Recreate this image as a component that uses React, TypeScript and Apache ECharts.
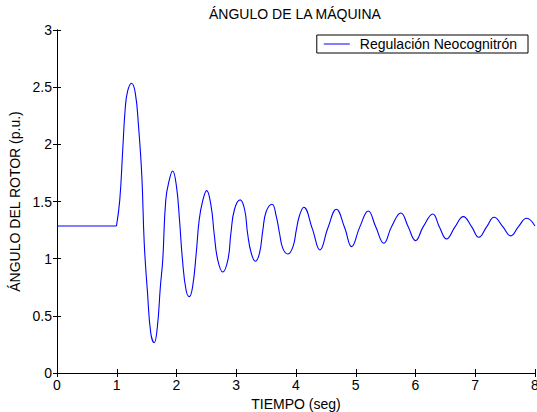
import React, { useEffect, useRef } from "react";
import * as echarts from "echarts";

const TITLE = "ÁNGULO DE LA MÁQUINA";
const X_NAME = "TIEMPO (seg)";
const Y_NAME = "ÁNGULO DEL ROTOR (p.u.)";
const SERIES_NAME = "Regulación Neocognitrón";

// pre-fault steady state
const PRE_TIME = [0, 0.995];
const PRE_ANGLE = [1.286, 1.286];

// post-fault oscillation
const TIME = [
  0.995, 1.05, 1.1, 1.14, 1.18, 1.247, 1.31, 1.365, 1.42, 1.46,
  1.515, 1.57, 1.627, 1.68, 1.73, 1.77, 1.82, 1.88, 1.935, 2.0,
  2.05, 2.1, 2.16, 2.215, 2.27, 2.33, 2.38, 2.44, 2.505, 2.58,
  2.63, 2.69, 2.774, 2.86, 2.91, 2.97, 3.065, 3.14, 3.19, 3.25,
  3.32, 3.39, 3.445, 3.5, 3.6, 3.67, 3.725, 3.78, 3.865, 3.95,
  4.005, 4.06, 4.13, 4.273, 4.4, 4.535, 4.675, 4.815, 4.93, 5.067,
  5.21, 5.336, 5.47, 5.599, 5.755, 5.878, 6.0, 6.13, 6.29, 6.398,
  6.52, 6.661, 6.8, 6.941, 7.06, 7.193, 7.315, 7.461, 7.595, 7.723,
  7.86, 8.0,
];
const ANGLE = [
  1.286, 1.51, 1.95, 2.3, 2.46, 2.534, 2.45, 2.155, 1.72, 1.135,
  0.7, 0.347, 0.265, 0.405, 0.755, 0.99, 1.51, 1.69, 1.767, 1.63,
  1.34, 0.99, 0.726, 0.668, 0.755, 1.047, 1.34, 1.51, 1.595, 1.455,
  1.22, 0.99, 0.884, 0.99, 1.22, 1.43, 1.514, 1.43, 1.22, 1.05,
  0.977, 1.05, 1.25, 1.41, 1.476, 1.37, 1.22, 1.09, 1.041, 1.105,
  1.25, 1.38, 1.45, 1.263, 1.076, 1.27, 1.432, 1.27, 1.105, 1.276,
  1.417, 1.276, 1.135, 1.279, 1.4, 1.279, 1.158, 1.28, 1.391, 1.28,
  1.172, 1.278, 1.368, 1.278, 1.187, 1.28, 1.362, 1.28, 1.199, 1.28,
  1.353, 1.286,
];

const X_MIN = 0;
const X_MAX = 8;
const X_STEP = 1;
const Y_MIN = 0;
const Y_MAX = 3;
const Y_STEP = 0.5;

const FONT = "'Liberation Sans', Arial, sans-serif";
const FS = 14;

export default function App() {
  const ref = useRef<HTMLDivElement>(null);

  useEffect(() => {
    if (!ref.current) return;
    const chart = echarts.init(ref.current, undefined, { renderer: "svg" });
    const pre = PRE_TIME.map((t, i) => [t, PRE_ANGLE[i]]);
    const post = TIME.map((t, i) => [t, ANGLE[i]]);

    const axisLine = { show: true, lineStyle: { color: "#000", width: 1 } };
    const axisTick = { show: true, inside: true, length: 4, lineStyle: { color: "#000", width: 1 } };
    const label = { color: "#000", fontFamily: FONT, fontSize: FS };

    chart.setOption({
      animation: false,
      backgroundColor: "#fff",
      textStyle: { fontFamily: FONT },
      grid: {
        left: 57,
        right: 2,
        top: 30,
        bottom: 39,
        containLabel: false,
        outerBoundsMode: "none",
      },
      graphic: [
        {
          type: "text",
          x: 295,
          y: 14,
          style: {
            text: TITLE,
            fontFamily: FONT,
            fontSize: FS,
            fill: "#000",
            textAlign: "center",
            textVerticalAlign: "middle",
          },
        },
      ],
      legend: {
        data: [{ name: SERIES_NAME, icon: "rect" }],
        right: 9,
        top: 35,
        padding: [2, 11, 2, 7],
        borderColor: "#000",
        borderWidth: 1,
        borderRadius: 0,
        backgroundColor: "#fff",
        itemWidth: 26,
        itemHeight: 1,
        textStyle: {
          color: "#000",
          fontFamily: FONT,
          fontSize: FS,
          padding: [0, 0, 0, 5],
        },
      },
      xAxis: [
        {
          type: "value",
          min: X_MIN,
          max: X_MAX,
          interval: X_STEP,
          position: "bottom",
          name: X_NAME,
          nameLocation: "middle",
          nameGap: 20,
          nameTextStyle: { color: "#000", fontFamily: FONT, fontSize: FS },
          axisLine,
          axisTick,
          axisLabel: { ...label, margin: 5 },
          splitLine: { show: false },
        },
        {
          type: "value",
          min: X_MIN,
          max: X_MAX,
          interval: X_STEP,
          position: "top",
          axisLine,
          axisTick,
          axisLabel: { show: false },
          splitLine: { show: false },
        },
      ],
      yAxis: [
        {
          type: "value",
          min: Y_MIN,
          max: Y_MAX,
          interval: Y_STEP,
          position: "left",
          name: Y_NAME,
          nameLocation: "middle",
          nameGap: 35,
          nameTextStyle: { color: "#000", fontFamily: FONT, fontSize: FS },
          axisLine,
          axisTick,
          axisLabel: { ...label, margin: 5 },
          splitLine: { show: false },
        },
        {
          type: "value",
          min: Y_MIN,
          max: Y_MAX,
          interval: Y_STEP,
          position: "right",
          axisLine,
          axisTick,
          axisLabel: { show: false },
          splitLine: { show: false },
        },
      ],
      series: [
        {
          name: SERIES_NAME,
          type: "line",
          data: pre,
          showSymbol: false,
          symbol: "none",
          lineStyle: { color: "#0000ff", width: 1.1 },
          itemStyle: { color: "#0000ff" },
        },
        {
          name: SERIES_NAME,
          type: "line",
          data: post,
          smooth: 0.45,
          showSymbol: false,
          symbol: "none",
          lineStyle: { color: "#0000ff", width: 1.1 },
          itemStyle: { color: "#0000ff" },
        },
      ],
    });
    return () => chart.dispose();
  }, []);

  return (
    <div
      ref={ref}
      style={{ position: "fixed", left: 0, top: 0, width: 537, height: 412 }}
    />
  );
}
